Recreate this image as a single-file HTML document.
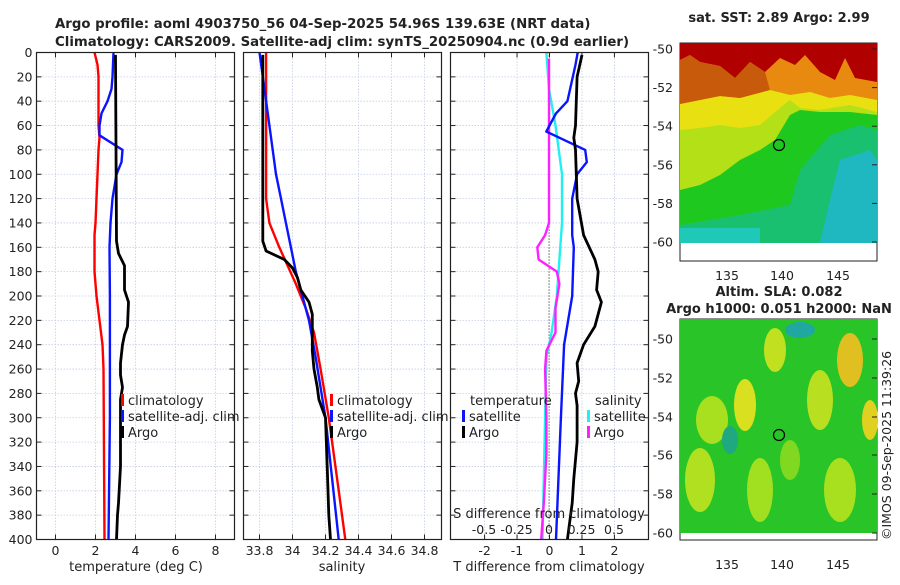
<!DOCTYPE html>
<html><head><meta charset="utf-8"><style>
body{margin:0;background:#fff;}
svg text{font-family:"DejaVu Sans","Liberation Sans",sans-serif;fill:#222;}
</style></head><body>
<svg id="c" width="900" height="580" xmlns="http://www.w3.org/2000/svg">
<text x="55" y="28" font-size="13.3" font-weight="bold">Argo profile: aoml 4903750_56 04-Sep-2025 54.96S 139.63E (NRT data)</text>
<text x="55" y="46" font-size="13.3" font-weight="bold">Climatology: CARS2009. Satellite-adj clim: synTS_20250904.nc (0.9d earlier)</text>
<text x="779" y="22" font-size="13" font-weight="bold" text-anchor="middle">sat. SST: 2.89 Argo: 2.99</text>
<text x="779" y="296" font-size="13" font-weight="bold" text-anchor="middle">Altim. SLA: 0.082</text>
<text x="779" y="313" font-size="13" font-weight="bold" text-anchor="middle">Argo h1000: 0.051 h2000: NaN</text>
<text transform="translate(891,540) rotate(-90)" font-size="12.5">©IMOS 09-Sep-2025 11:39:26</text>

<!-- SST map -->
<g>
<rect x="680" y="43" width="197" height="218" fill="#fff" stroke="#222"/>
<rect x="680" y="43" width="197" height="200" fill="#1ec81e"/>
<polygon points="680,43 877,43 877,115 850,112 820,112 800,110 790,115 775,140 760,150 740,160 720,175 700,185 680,190" fill="#b4e018"/>
<polygon points="680,43 877,43 877,112 850,105 820,110 800,108 790,100 775,112 760,125 740,128 720,125 700,128 680,130" fill="#e8e010"/>
<polygon points="680,43 877,43 877,100 850,95 830,98 810,92 790,95 770,90 740,98 720,96 700,100 680,104" fill="#e88a10"/>
<polygon points="680,43 877,43 877,82 855,78 845,58 835,80 820,72 805,55 795,65 780,58 765,72 750,62 735,78 720,66 700,62 690,55 680,60" fill="#b00000"/>
<polygon points="680,60 690,55 700,62 720,66 735,78 750,62 765,72 770,90 740,98 720,96 700,100 680,104" fill="#c85a0c"/>
<polygon points="800,170 830,135 860,125 877,130 877,243 680,243 680,225 740,215 790,205" fill="#18c070"/>
<polygon points="840,160 870,150 877,160 877,243 820,243 830,200" fill="#20b8c0"/>
<rect x="680" y="228" width="80" height="15" fill="#20c8b8"/>
<circle cx="779" cy="145" r="5.5" fill="none" stroke="#000" stroke-width="1.2"/>
</g>
<!-- SLA map -->
<g>
<rect x="680" y="319" width="197" height="221" fill="#fff" stroke="#222"/>
<rect x="680" y="319" width="197" height="214" fill="#28c428"/>
<ellipse cx="712" cy="420" rx="16" ry="24" fill="#a8e020"/>
<ellipse cx="745" cy="405" rx="11" ry="26" fill="#d8e020"/>
<ellipse cx="775" cy="350" rx="11" ry="22" fill="#c0e020"/>
<ellipse cx="820" cy="400" rx="13" ry="30" fill="#b8e020"/>
<ellipse cx="850" cy="360" rx="13" ry="27" fill="#e0c020"/>
<ellipse cx="870" cy="420" rx="8" ry="20" fill="#e0d020"/>
<ellipse cx="700" cy="480" rx="15" ry="32" fill="#b0e020"/>
<ellipse cx="760" cy="490" rx="13" ry="32" fill="#a0e020"/>
<ellipse cx="840" cy="490" rx="16" ry="32" fill="#a8e020"/>
<ellipse cx="790" cy="460" rx="10" ry="20" fill="#80d820"/>
<ellipse cx="730" cy="440" rx="8" ry="14" fill="#20a880"/>
<ellipse cx="800" cy="330" rx="15" ry="8" fill="#20a8a0"/>
<circle cx="779" cy="435" r="5.5" fill="#28c428" stroke="#000" stroke-width="1.2"/>
</g>
<g id="plots"></g>
</svg>
<script>
// ---- data (depth in dbar) ----
const tClimD=[0,10,20,60,70,80,100,140,150,180,200,220,240,260,400];
const tClimV=[1.95,2.1,2.15,2.15,2.2,2.15,2.1,2.0,1.95,1.95,2.05,2.2,2.35,2.4,2.45];
const tSatD=[0,20,30,40,50,60,68,80,90,100,120,140,160,200,300,400];
const tSatV=[2.9,2.85,2.8,2.6,2.3,2.2,2.2,3.35,3.3,3.05,2.85,2.75,2.7,2.72,2.72,2.65];
const tArgoD=[2,155,165,175,195,200,205,225,232,240,255,265,275,285,300,340,370,380,400];
const tArgoV=[3.0,3.05,3.15,3.45,3.45,3.55,3.65,3.6,3.45,3.35,3.25,3.25,3.35,3.25,3.25,3.25,3.15,3.1,3.05];
const sClimD=[0,120,140,160,175,190,210,230,260,300,350,400];
const sClimV=[33.84,33.84,33.86,33.92,33.97,34.02,34.08,34.13,34.17,34.22,34.27,34.32];
const sSatD=[0,30,60,80,100,120,140,160,180,200,220,250,300,350,400];
const sSatV=[33.8,33.83,33.86,33.88,33.9,33.93,33.96,33.99,34.02,34.06,34.1,34.14,34.2,34.24,34.28];
const sArgoD=[2,155,163,170,177,185,195,205,215,245,260,275,285,300,340,380,400];
const sArgoV=[33.82,33.82,33.84,33.95,34.0,34.03,34.05,34.1,34.12,34.12,34.13,34.15,34.16,34.2,34.21,34.22,34.23];
const dtSatD=[0,10,40,50,60,65,80,90,100,120,150,160,200,240,300,400];
const dtSatV=[0.87,0.8,0.55,0.2,0.0,-0.1,1.1,1.15,0.85,0.7,0.7,0.75,0.7,0.45,0.35,0.2];
const dtArgoD=[2,20,60,70,80,120,150,170,180,195,205,225,240,255,270,280,290,320,350,370,400];
const dtArgoV=[1.0,0.85,0.8,0.75,0.8,0.85,1.05,1.4,1.5,1.45,1.6,1.4,1.05,0.85,0.9,0.8,0.85,0.85,0.75,0.7,0.55];
const dsSatD=[0,30,60,100,140,170,200,230,250,300,400];
const dsSatV=[-0.02,0.0,0.05,0.1,0.1,0.08,0.06,0.02,-0.02,-0.03,-0.05];
const dsArgoD=[5,140,150,160,170,180,190,210,230,245,260,300,330,370,400];
const dsArgoV=[0.0,0.0,-0.03,-0.09,-0.08,0.06,0.08,0.05,0.05,-0.02,-0.03,-0.02,-0.02,-0.04,-0.06];
const depthTicks=[0,20,40,60,80,100,120,140,160,180,200,220,240,260,280,300,320,340,360,380,400];
const tTicks=[0,2,4,6,8];
const sTicks=[33.8,34,34.2,34.4,34.6,34.8];
const sTickLabels=["33.8","34","34.2","34.4","34.6","34.8"];
const dtTicks=[-2,-1,0,1,2];
const dsTicks=[-0.5,-0.25,0,0.25,0.5];
const dsTickLabels=["-0.5","-0.25","0","0.25","0.5"];

const NS="http://www.w3.org/2000/svg";
const root=document.getElementById('plots');
function mk(tag,at,parent){const e=document.createElementNS(NS,tag);for(const k in at)e.setAttribute(k,at[k]);(parent||root).appendChild(e);return e;}
const Y0=52.5,Y1=539.5;
const yScale=d=>Y0+d/400*(Y1-Y0);
function panel(name,x0,x1,dom){
  const g=mk('g',{});
  
  
  const xs=v=>x0+(v-dom[0])/(dom[1]-dom[0])*(x1-x0);
  return {g,xs};
}
function grid(p,x0,x1,xticks,left){
  depthTicks.forEach(d=>{const y=yScale(d);
    const l=mk('line',{x1:x0,x2:x1,y1:y,y2:y,stroke:'#c5cde6','stroke-dasharray':'1.5,1.5','stroke-width':0.8},p.g);
    
    mk('line',{x1:x0,x2:x0+5,y1:y,y2:y,stroke:'#222'},p.g);
    mk('line',{x1:x1-5,x2:x1,y1:y,y2:y,stroke:'#222'},p.g);
    if(left){const t=mk('text',{x:x0-4,y:y+4.5,'font-size':12.5,'text-anchor':'end'},p.g);t.textContent=d;
      }
  });
  xticks.forEach(v=>{const x=p.xs(v);
    const l=mk('line',{x1:x,x2:x,y1:Y0,y2:Y1,stroke:'#c5cde6','stroke-dasharray':'1.5,1.5','stroke-width':0.8},p.g);
    
    mk('line',{x1:x,x2:x,y1:Y1,y2:Y1-5,stroke:'#222'},p.g);
    mk('line',{x1:x,x2:x,y1:Y0,y2:Y0+5,stroke:'#222'},p.g);
  });
}
function frame(p,x0,x1){const r=mk('rect',{x:x0,y:Y0,width:x1-x0,height:Y1-Y0,fill:'none',stroke:'#222','stroke-width':1.2},p.g);
  }
function xlabels(p,ticks,labels,y){ticks.forEach((v,i)=>{const t=mk('text',{x:p.xs(v),y:y,'font-size':12.5,'text-anchor':'middle'},p.g);t.textContent=labels?labels[i]:v;
  });}
function series(p,xs,D,V,color,name,w){
  const pts=D.map((d,i)=>xs(V[i]).toFixed(1)+','+yScale(d).toFixed(1)).join(' ');
  const e=mk('polyline',{points:pts,fill:'none',stroke:color,'stroke-width':w||2.4,'stroke-linejoin':'round'},p.g);
  
}
function legend(p,x,y,items){items.forEach((it,i)=>{
  mk('rect',{x:x,y:y+i*16-11,width:3,height:12,fill:it[0]},p.g);
  const t=mk('text',{x:x+7,y:y+i*16,'font-size':13},p.g);t.textContent=it[1];
  });}
function title(p,x,y,s,name){const t=mk('text',{x:x,y:y,'font-size':13,'text-anchor':'middle'},p.g);t.textContent=s;
  }

// panel 1: temperature
let p=panel('temperature-panel',36.5,234.5,[-0.95,8.95]);
grid(p,36.5,234.5,tTicks,true);
series(p,p.xs,tClimD,tClimV,'#ff0000','temp-climatology-line');
series(p,p.xs,tSatD,tSatV,'#0a14ff','temp-satellite-line');
series(p,p.xs,tArgoD,tArgoV,'#000','temp-argo-line',2.8);
frame(p,36.5,234.5);xlabels(p,tTicks,null,555);
title(p,136,571,'temperature (deg C)','x-axis-title-temperature');
legend(p,121,405,[['#ff0000','climatology'],['#0a14ff','satellite-adj. clim'],['#000','Argo']]);
// panel 2: salinity
p=panel('salinity-panel',243.5,441.5,[33.703,34.903]);
grid(p,243.5,441.5,sTicks,false);
series(p,p.xs,sClimD,sClimV,'#ff0000','sal-climatology-line');
series(p,p.xs,sSatD,sSatV,'#0a14ff','sal-satellite-line');
series(p,p.xs,sArgoD,sArgoV,'#000','sal-argo-line',2.8);
frame(p,243.5,441.5);xlabels(p,sTicks,sTickLabels,555);
title(p,342,571,'salinity','x-axis-title-salinity');
legend(p,330,405,[['#ff0000','climatology'],['#0a14ff','satellite-adj. clim'],['#000','Argo']]);
// panel 3: differences
p=panel('difference-panel',450.5,648.5,[-3.05,3.05]);
const xsS=v=>549+v*130;
grid(p,450.5,648.5,dtTicks,false);
const z=mk('line',{x1:549,x2:549,y1:Y0,y2:Y1,stroke:'#333','stroke-dasharray':'1,2'},p.g);

series(p,xsS,dsSatD,dsSatV,'#22f0f0','sdiff-satellite-line');
series(p,xsS,dsArgoD,dsArgoV,'#ff20ff','sdiff-argo-line');
series(p,p.xs,dtSatD,dtSatV,'#0a14ff','tdiff-satellite-line');
series(p,p.xs,dtArgoD,dtArgoV,'#000','tdiff-argo-line',2.8);
frame(p,450.5,648.5);xlabels(p,dtTicks,null,555);
dsTicks.forEach((v,i)=>{const t=mk('text',{x:xsS(v),y:534,'font-size':12.5,'text-anchor':'middle'},p.g);t.textContent=dsTickLabels[i];
  });
title(p,549,518,'S difference from climatology','sdiff-axis-title');
title(p,549,571,'T difference from climatology','tdiff-axis-title');
let t=mk('text',{x:470,y:405,'font-size':13},p.g);t.textContent='temperature';

t=mk('text',{x:595,y:405,'font-size':13},p.g);t.textContent='salinity';

legend(p,462,421,[['#0a14ff','satellite'],['#000','Argo']]);
legend(p,587,421,[['#22f0f0','satellite'],['#ff20ff','Argo']]);
// map axes ticks
const mp=mk('g',{});


[[49,'-50'],[87.6,'-52'],[126.2,'-54'],[164.8,'-56'],[203.4,'-58'],[242,'-60']].forEach(a=>{
  const tt=mk('text',{x:673,y:a[0]+4.5,'font-size':12.5,'text-anchor':'end'},mp);tt.textContent=a[1];
  
  mk('line',{x1:872,x2:877,y1:a[0],y2:a[0],stroke:'#222'},mp);});
[[339,'-50'],[378,'-52'],[417,'-54'],[455,'-56'],[494,'-58'],[533,'-60']].forEach(a=>{
  const tt=mk('text',{x:673,y:a[0]+4.5,'font-size':12.5,'text-anchor':'end'},mp);tt.textContent=a[1];
  
  mk('line',{x1:872,x2:877,y1:a[0],y2:a[0],stroke:'#222'},mp);});
[[727,'135'],[782,'140'],[838,'145']].forEach(a=>{
  let tt=mk('text',{x:a[0],y:280,'font-size':12.5,'text-anchor':'middle'},mp);tt.textContent=a[1];
  
  tt=mk('text',{x:a[0],y:569,'font-size':12.5,'text-anchor':'middle'},mp);tt.textContent=a[1];
  });
</script>
</body></html>
